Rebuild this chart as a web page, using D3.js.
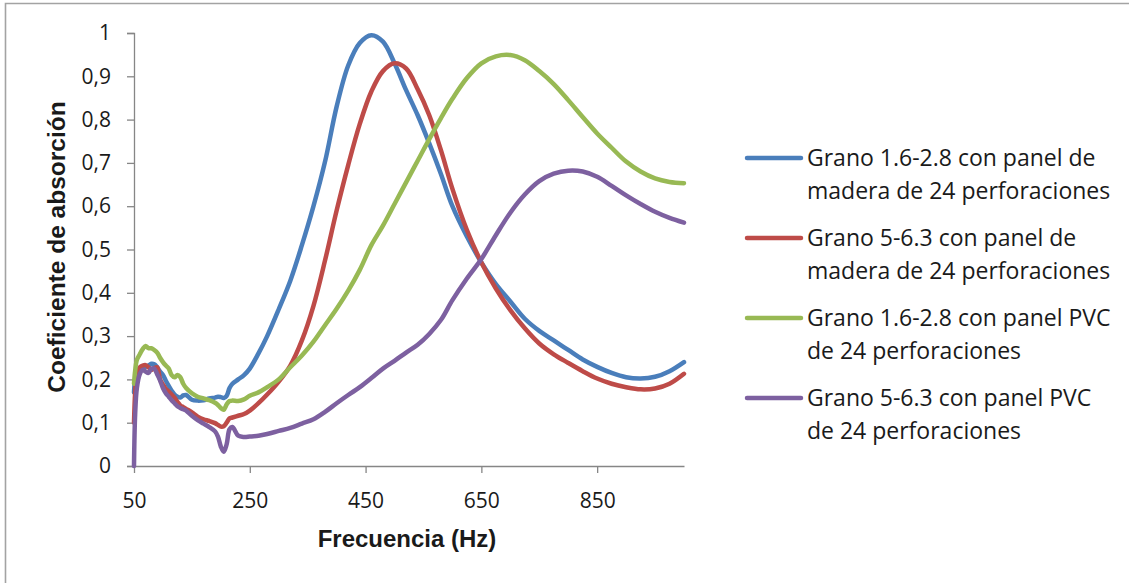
<!DOCTYPE html>
<html>
<head>
<meta charset="utf-8">
<script src="https://cdn.jsdelivr.net/npm/d3@7/dist/d3.min.js"></script>
<style>
  html, body { margin: 0; padding: 0; background: #fff; }
  svg { display: block; }
</style>
</head>
<body>
<svg id="chart" width="1129" height="583"></svg>
<script>
// Frequency grid (Hz) shared by all series
const frequencies = [50, 52, 55, 60, 65, 70, 75, 80, 85, 90, 95, 100, 105, 110, 115, 120, 125, 130, 135, 140,
  150, 160, 170, 180, 190, 195, 200, 205, 210, 215, 220, 230, 240, 250, 265, 280, 300, 320, 340, 360,
  380, 400, 420, 440, 460, 480, 500, 520, 540, 560, 580, 600, 625, 650, 675, 700, 725, 750, 775, 800,
  825, 850, 875, 900, 925, 950, 975, 1000];

// Absorption coefficient per series
const granoFinoMadera = [0.17, 0.20, 0.215, 0.222, 0.226, 0.229, 0.232, 0.236, 0.235, 0.228, 0.218, 0.21, 0.197, 0.185, 0.174, 0.165, 0.16, 0.158, 0.163, 0.164,
  0.153, 0.151, 0.152, 0.156, 0.158, 0.16, 0.159, 0.157, 0.162, 0.18, 0.19, 0.2, 0.21, 0.225, 0.26, 0.3, 0.362, 0.428, 0.51, 0.6,
  0.703, 0.83, 0.925, 0.977, 0.995, 0.98, 0.93, 0.868, 0.81, 0.745, 0.675, 0.6, 0.53, 0.47, 0.42, 0.38, 0.34, 0.312, 0.29, 0.268,
  0.246, 0.229, 0.215, 0.205, 0.202, 0.206, 0.219, 0.24];

const granoGruesoMadera = [0.10, 0.17, 0.215, 0.228, 0.232, 0.233, 0.228, 0.222, 0.226, 0.228, 0.2, 0.188, 0.178, 0.172, 0.165, 0.158, 0.148, 0.14, 0.136, 0.132,
  0.124, 0.114, 0.108, 0.104, 0.099, 0.095, 0.091, 0.092, 0.1, 0.11, 0.112, 0.116, 0.12, 0.128, 0.145, 0.165, 0.195, 0.232, 0.29, 0.37,
  0.475, 0.59, 0.695, 0.79, 0.865, 0.912, 0.93, 0.918, 0.87, 0.81, 0.73, 0.64, 0.545, 0.47, 0.41, 0.36, 0.318, 0.283, 0.258, 0.238,
  0.219, 0.202, 0.19, 0.182, 0.177, 0.179, 0.19, 0.213];

const granoFinoPVC = [0.19, 0.22, 0.245, 0.258, 0.27, 0.277, 0.272, 0.272, 0.268, 0.262, 0.25, 0.24, 0.232, 0.225, 0.21, 0.205, 0.21, 0.205, 0.19, 0.18,
  0.168, 0.16, 0.156, 0.152, 0.146, 0.141, 0.134, 0.13, 0.142, 0.15, 0.151, 0.15, 0.154, 0.162, 0.17, 0.182, 0.2, 0.228, 0.255, 0.287,
  0.325, 0.363, 0.405, 0.453, 0.51, 0.555, 0.605, 0.655, 0.705, 0.755, 0.803, 0.848, 0.896, 0.93, 0.946, 0.949, 0.937, 0.912, 0.882, 0.845,
  0.806, 0.768, 0.735, 0.703, 0.68, 0.664, 0.656, 0.653];

const granoGruesoPVC = [0.0, 0.12, 0.18, 0.212, 0.222, 0.218, 0.215, 0.225, 0.225, 0.212, 0.198, 0.18, 0.168, 0.16, 0.152, 0.145, 0.138, 0.134, 0.131, 0.128,
  0.116, 0.106, 0.098, 0.09, 0.08, 0.068, 0.045, 0.033, 0.05, 0.085, 0.09, 0.07, 0.067, 0.068, 0.07, 0.074, 0.081, 0.088, 0.098, 0.108,
  0.125, 0.145, 0.164, 0.182, 0.203, 0.225, 0.243, 0.262, 0.28, 0.305, 0.337, 0.383, 0.433, 0.478, 0.533, 0.585, 0.627, 0.658, 0.675, 0.682,
  0.68, 0.668, 0.647, 0.625, 0.605, 0.587, 0.573, 0.562];

const seriesNames = [
  ["Grano 1.6-2.8 con panel de", "madera de 24 perforaciones"],
  ["Grano 5-6.3 con panel de", "madera de 24 perforaciones"],
  ["Grano 1.6-2.8 con panel PVC", "de 24 perforaciones"],
  ["Grano 5-6.3 con panel PVC", "de 24 perforaciones"]
];
const seriesValues = [granoFinoMadera, granoGruesoMadera, granoFinoPVC, granoGruesoPVC];
const seriesColors = ["#4A7EBB", "#BE4B48", "#98B954", "#7D60A0"];

const xTickValues = [50, 250, 450, 650, 850];
const yTickValues = [0, 0.1, 0.2, 0.3, 0.4, 0.5, 0.6, 0.7, 0.8, 0.9, 1];

const svg = d3.select("#chart");

// Outer frame (left and top edges)
svg.append("path")
  .attr("d", "M5.5,583 L5.5,3.5 L1129,3.5")
  .attr("fill", "none")
  .attr("stroke", "#a3a3a3")
  .attr("stroke-width", 1.6);

const x = d3.scaleLinear().domain([50, 1000]).range([134, 684]);
const y = d3.scaleLinear().domain([0, 1]).range([466, 33]);

const axisColor = "#868686";
const tickFont = "'Open Sans', sans-serif";
const titleFont = "'Liberation Sans', Arial, sans-serif";

// Y axis
const yAxis = svg.append("g")
  .attr("transform", `translate(${x(50)},0)`)
  .call(d3.axisLeft(y).tickValues(yTickValues).tickSize(7).tickPadding(16)
    .tickFormat(d => d3.format(".1~f")(d).replace(".", ",")));
yAxis.select(".domain").attr("stroke", axisColor).attr("stroke-width", 1.3);
yAxis.selectAll(".tick line").attr("stroke", axisColor).attr("stroke-width", 1.3);
yAxis.selectAll(".tick text")
  .attr("fill", "#1a1a1a")
  .style("font-family", tickFont)
  .style("font-size", "21px");

// X axis
const xAxis = svg.append("g")
  .attr("transform", `translate(0,${y(0)})`)
  .call(d3.axisBottom(x).tickValues(xTickValues).tickSize(7).tickPadding(20).tickSizeOuter(0));
xAxis.select(".domain").attr("stroke", axisColor).attr("stroke-width", 1.3);
xAxis.selectAll(".tick line").attr("stroke", axisColor).attr("stroke-width", 1.3);
xAxis.selectAll(".tick text")
  .attr("fill", "#1a1a1a")
  .style("font-family", tickFont)
  .style("font-size", "21px");

// Axis titles
svg.append("text")
  .attr("x", 407)
  .attr("y", 547)
  .attr("text-anchor", "middle")
  .style("font-family", titleFont)
  .style("font-weight", "bold")
  .style("font-size", "24px")
  .attr("fill", "#1a1a1a")
  .text("Frecuencia (Hz)");

svg.append("text")
  .attr("transform", "translate(65,247) rotate(-90)")
  .attr("text-anchor", "middle")
  .style("font-family", titleFont)
  .style("font-weight", "bold")
  .style("font-size", "24.5px")
  .attr("fill", "#1a1a1a")
  .text("Coeficiente de absorción");

// Series lines
const line = d3.line()
  .x((d, i) => x(frequencies[i]))
  .y(d => y(d))
  .curve(d3.curveCatmullRom.alpha(0.5));

seriesValues.forEach((vals, k) => {
  svg.append("path")
    .datum(vals)
    .attr("d", line)
    .attr("fill", "none")
    .attr("stroke", seriesColors[k])
    .attr("stroke-width", 4.5)
    .attr("stroke-linejoin", "round")
    .attr("stroke-linecap", "round");
});

// Legend
const legend = svg.append("g");
seriesNames.forEach((lines, k) => {
  const cy = 158 + k * 80;
  legend.append("line")
    .attr("x1", 747).attr("x2", 801)
    .attr("y1", cy).attr("y2", cy)
    .attr("stroke", seriesColors[k])
    .attr("stroke-width", 4.5)
    .attr("stroke-linecap", "round");
  lines.forEach((t, j) => {
    legend.append("text")
      .attr("x", 807)
      .attr("y", cy + 8 + j * 33)
      .style("font-family", tickFont)
      .style("font-size", "23px")
      .attr("fill", "#1a1a1a")
      .text(t);
  });
});
</script>
</body>
</html>
